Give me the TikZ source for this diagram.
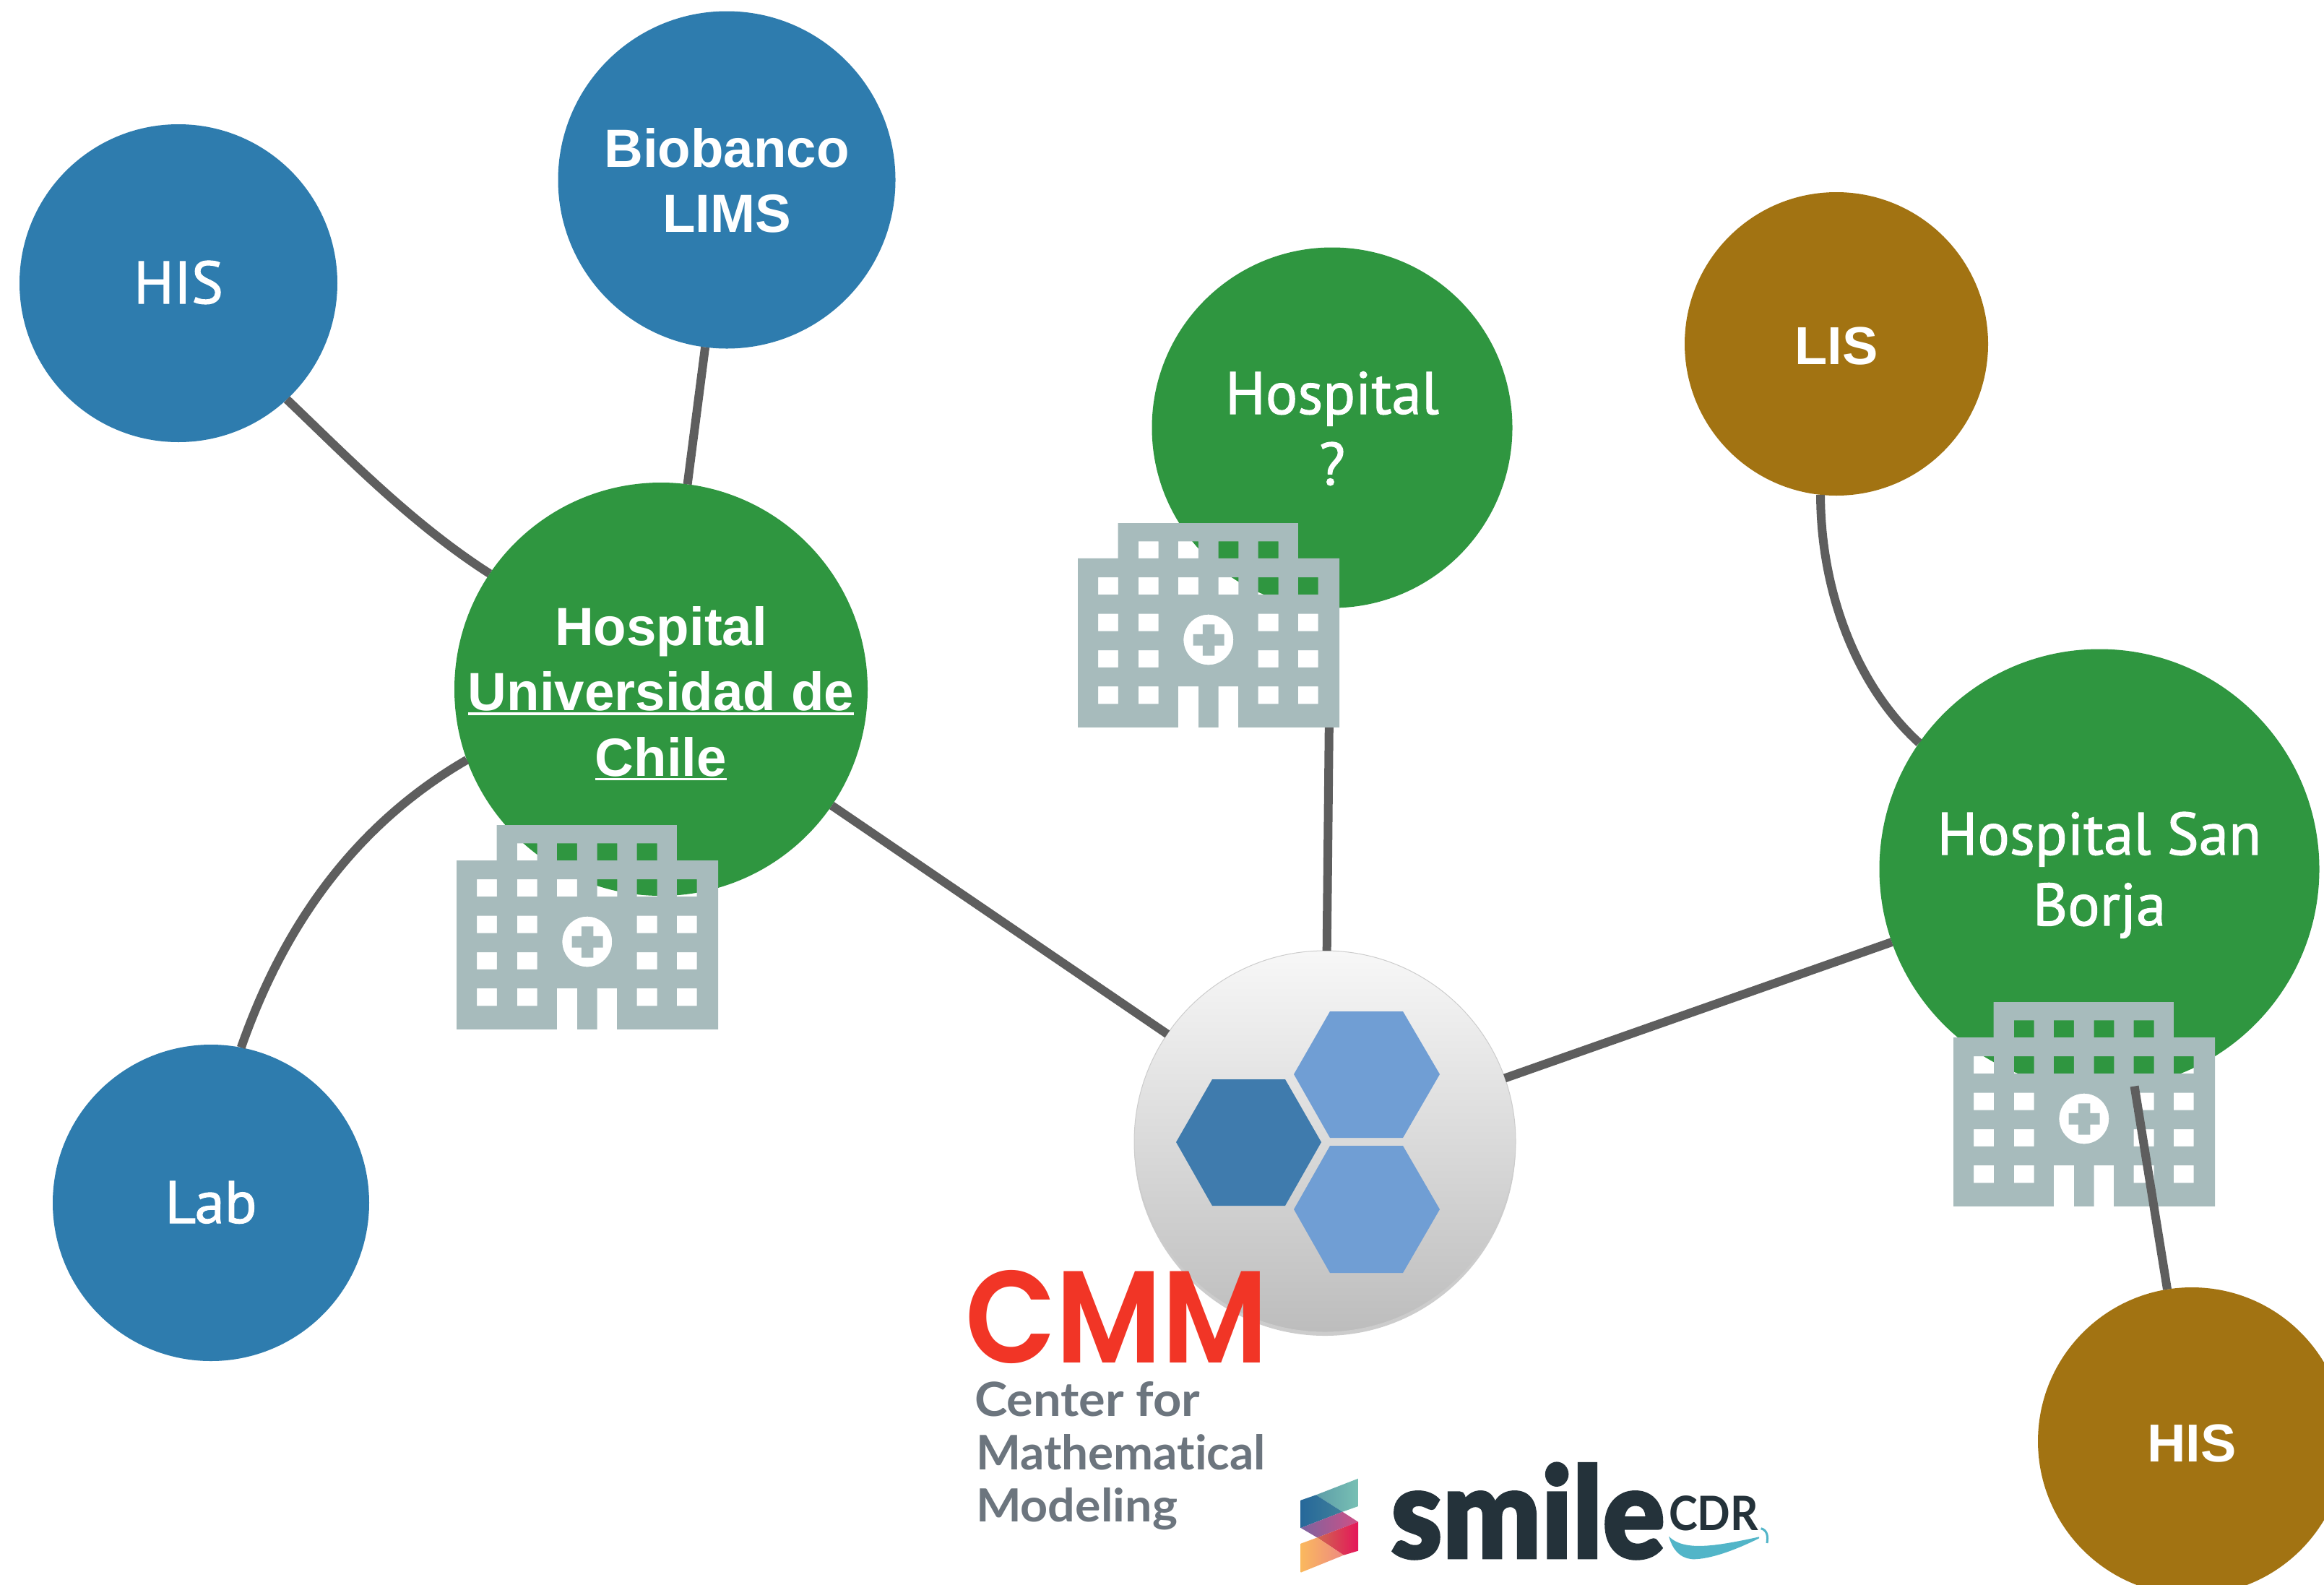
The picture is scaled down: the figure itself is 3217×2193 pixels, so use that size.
\documentclass[tikz,border=0pt]{standalone}
\usepackage{fontspec}
\usepackage{graphicx}
\usepackage{array}
\setmainfont{Liberation Sans}
\newfontfamily\dinfont[FakeBold=1.3]{PT Sans}
\newfontfamily\latofont[Ligatures={NoCommon,NoRequired}]{Lato}
\newfontfamily\heavyfont[FakeBold=1.5]{Lato Black}
\newfontfamily\cmmfont{Poppins SemiBold}
\usetikzlibrary{shadows}
\definecolor{nodeblue}{HTML}{2E7CAE}
\definecolor{nodegreen}{HTML}{2F9640}
\definecolor{nodegold}{HTML}{A27312}
\definecolor{linkgray}{HTML}{5E5E5E}
\definecolor{bldggray}{HTML}{A7BBBC}
\definecolor{hexdark}{HTML}{3F7BAD}
\definecolor{hexlight}{HTML}{709ED4}
\definecolor{cmmred}{HTML}{F13526}
\definecolor{cmmgray}{HTML}{6C757E}
\definecolor{smileink}{HTML}{24323A}
\definecolor{swoosh}{HTML}{52B5C8}
\definecolor{sa}{HTML}{5D9DA8}\definecolor{sb}{HTML}{78C0B4}
\definecolor{sc}{HTML}{26689A}\definecolor{sd}{HTML}{3F7F9A}
\definecolor{se}{HTML}{7D639F}\definecolor{sf}{HTML}{CE5086}
\definecolor{sg}{HTML}{CF6650}\definecolor{sh}{HTML}{E5165A}
\definecolor{si}{HTML}{FAB85E}\definecolor{sj}{HTML}{EE8A80}
% text whose first baseline lies #1 above the centre of its node
\newcommand\nodetext[2]{\raisebox{#1}[0pt][0pt]{\makebox[0pt]{\begin{tabular}[t]{@{}c@{}}#2\end{tabular}}}}
\newcommand\ruled[1]{\setbox0\hbox{#1}\rlap{\rule[-6pt]{\wd0}{3.5pt}}\box0}
\newcommand\hospbldg[2]{%
\begin{scope}[shift={(#1,#2)},x=0.574pt,y=-0.3827pt,shift={(-56,-110)}]
\fill[bldggray,even odd rule]
 (153,110)--(587,110)--(587,238)--(687,238)--(687,849)--(443,849)--(443,701)--(395,701)--(395,849)--(347,849)--(347,701)--(298,701)--(298,849)--(56,849)--(56,238)--(153,238)--cycle
 \foreach \a in {202,298,395,491}{(\a,176) rectangle +(48.5,62)}
 \foreach \a in {105,202,298,395,491,587}{(\a,306) rectangle +(48.5,63)}
 \foreach \a in {105,202,491,587}{(\a,438) rectangle +(48.5,63) (\a,570) rectangle +(48.5,62) (\a,701) rectangle +(48.5,63)}
 (371,532) ellipse [x radius=60,y radius=91]
 (357,477)--(386,477)--(386,512)--(409,512)--(409,553)--(386,553)--(386,590)--(357,590)--(357,553)--(334,553)--(334,512)--(357,512)--cycle;
\end{scope}}
\tikzset{
 disc/.style={circle,draw=none,inner sep=0pt,outer sep=0pt,text=white},
 boldlbl/.style={font=\fontsize{74.5}{90.5}\selectfont\bfseries},
 din/.style={font=\dinfont\fontsize{83}{98}\selectfont},
 link/.style={draw=linkgray,line width=12pt},
 logotext/.style={inner sep=0pt,outer sep=0pt,anchor=base west},
}
\begin{document}
\begin{tikzpicture}[x=1pt,y=-1pt]
\useasboundingbox (0,0) rectangle (3217,2193);
\clip (0,0) rectangle (3217,2193);
\fill[white] (0,0) rectangle (3217,2193);
% coloured circles
\node[disc,fill=nodeblue,minimum size=440pt,din] (his1) at (247,392) {\nodetext{-28pt}{HIS}};
\node[disc,fill=nodeblue,minimum size=467pt,boldlbl] (bio) at (1006,249) {\nodetext{18pt}{Biobanco\\LIMS}};
\node[disc,fill=nodegreen,minimum size=572pt,boldlbl] (uch) at (915,954) {\nodetext{61pt}{Hospital\\\ruled{Universidad de}\\\ruled{Chile}}};
\node[disc,fill=nodeblue,minimum size=438pt,din] (lab) at (292,1665) {\nodetext{-28pt}{Lab}};
\node[disc,fill=nodegreen,minimum size=499pt,din] (hq) at (1844,592) {\nodetext{19pt}{Hospital\\?}};
\node[disc,fill=nodegold,minimum size=420pt,font=\fontsize{74}{90}\selectfont\bfseries] (lis) at (2542,476) {\nodetext{-28pt}{LIS}};
\node[disc,fill=nodegreen,minimum size=609pt,din] (sb) at (2906,1203) {\nodetext{20pt}{Hospital San\\Borja}};
\node[disc,fill=nodegold,minimum size=426pt,font=\fontsize{74}{90}\selectfont\bfseries] (his2) at (3034,1995) {\nodetext{-28pt}{HIS}};
% central platform circle
\node[circle,inner sep=0pt,outer sep=0pt,minimum size=528pt,top color=black!3,bottom color=black!26,draw=black!20,line width=1pt,drop shadow={shadow xshift=0pt,shadow yshift=-5pt,opacity=.2,fill=black}] (core) at (1834,1580) {};
\fill[hexdark] (1628,1581)--(1678,1494)--(1779,1494)--(1829,1581)--(1779,1669)--(1678,1669)--cycle;
\fill[hexlight] (1791,1487)--(1841,1400)--(1942,1400)--(1993,1487)--(1942,1575)--(1841,1575)--cycle;
\fill[hexlight] (1791,1674)--(1841,1586)--(1942,1586)--(1993,1674)--(1942,1762)--(1841,1762)--cycle;
% connector hidden behind its building
\draw[link] (hq) -- (core);
% buildings
\hospbldg{632}{1142}
\hospbldg{1492}{724}
\hospbldg{2704}{1387}
% connectors
\draw[link] (bio) -- (uch);
\draw[link] (uch) -- (core);
\draw[link] (core) -- (sb);
\draw[link] (sb) -- (his2);
\draw[link] (his1.-47) .. controls (480,632) and (570,725) .. (uch.146);
\draw[link] (lab.79) .. controls (398,1266) and (503,1135) .. (uch.200);
\draw[link] (lis.264) .. controls (2520,810) and (2565,945) .. (sb.145);
% CMM logo
\node[logotext,text=cmmred,font=\cmmfont] (cmm) at (1336,1886) {\resizebox{420pt}{128pt}{CMM}};
\node[logotext,text=cmmgray,font=\latofont\bfseries] (cmm1) at (1349,1960) {\resizebox{312pt}{48pt}{Center for}};
\node[logotext,text=cmmgray,font=\latofont\bfseries] (cmm2) at (1351,2034) {\resizebox{401pt}{49pt}{Mathematical}};
\node[logotext,text=cmmgray,font=\latofont\bfseries] (cmm3) at (1351,2106) {\resizebox{279pt}{47pt}{Modeling}};
% Smile CDR logo
\begin{scope}[shift={(1780,2020)},x=0.3333pt,y=-0.3333pt]
\shade[left color=sa,right color=sb] (125,148)--(300,80)--(300,195)--(235,218)--cycle;
\shade[left color=sc,right color=sd] (62,170)--(125,148)--(235,218)--(62,285)--cycle;
\shade[left color=se,right color=sf] (62,285)--(235,218)--(300,260)--(130,325)--cycle;
\shade[left color=sg,right color=sh] (130,325)--(300,260)--(300,380)--(240,398)--cycle;
\shade[left color=si,right color=sj] (62,350)--(130,325)--(240,398)--(62,470)--cycle;
\end{scope}
\node[logotext,text=smileink,font=\heavyfont] (smile) at (1925,2157) {\resizebox{380pt}{132pt}{smile}};
\node[logotext,text=smileink,font=\latofont\bfseries] (cdr) at (2310,2118) {\resizebox{124pt}{48pt}{CDR}};
\begin{scope}[shift={(2300,2050)},x=0.3333pt,y=-0.3333pt]
\fill[swoosh] (30,230) .. controls (90,290) and (210,275) .. (405,232) -- (405,238) .. controls (300,290) and (200,325) .. (130,325) .. controls (70,320) and (45,280) .. (30,230) -- cycle;
\draw[swoosh,line width=3pt] (413,197) .. controls (440,205) and (442,230) .. (438,258);
\end{scope}
\end{tikzpicture}
\end{document}
